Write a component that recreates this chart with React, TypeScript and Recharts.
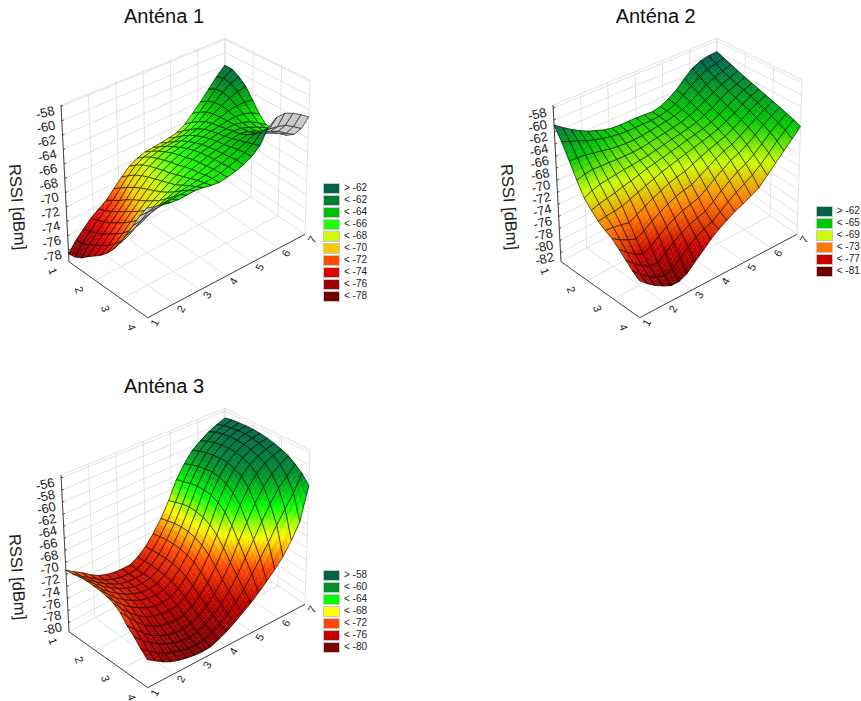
import React from 'react';
import { ReferenceLine, Scatter, ScatterChart, XAxis, YAxis } from 'recharts';

const xValues = [1, 1.3, 1.6, 1.9, 2.2, 2.5, 2.8, 3.1, 3.4, 3.7, 4, 4.3, 4.6, 4.9, 5.2, 5.5, 5.8, 6.1, 6.4, 6.7, 7];
const yValues = [1, 1.25, 1.5, 1.75, 2, 2.25, 2.5, 2.75, 3, 3.25, 3.5, 3.75, 4];
const xTicks = [1, 2, 3, 4, 5, 6, 7];
const yTicks = [1, 2, 3, 4];

// one row per y value, one column per x value
const antena1Z = [
	[-78.5, -77.2, -76.2, -75.2, -74.5, -73.8, -72.7, -71.6, -70.6, -70.0, -69.6, -69.5, -69.4, -69.2, -69.0, -68.3, -67.2, -66.0, -64.6, -63.2, -62.0],
	[-78.3, -77.0, -75.9, -74.9, -74.1, -73.2, -72.0, -70.8, -69.8, -69.2, -68.9, -68.8, -68.7, -68.5, -68.1, -67.4, -66.4, -65.3, -64.0, -62.9, -62.0],
	[-77.8, -76.6, -75.5, -74.5, -73.6, -72.6, -71.3, -70.1, -69.2, -68.6, -68.3, -68.1, -68.0, -67.7, -67.3, -66.7, -65.8, -64.9, -63.9, -63.1, -62.6],
	[-77.0, -76.0, -75.0, -74.0, -73.0, -71.9, -70.7, -69.6, -68.8, -68.2, -67.8, -67.6, -67.3, -67.0, -66.6, -66.1, -65.5, -64.8, -64.2, -63.8, -63.5],
	[-76.3, -75.4, -74.4, -73.4, -72.4, -71.3, -70.2, -69.2, -68.5, -67.9, -67.4, -67.1, -66.8, -66.5, -66.1, -65.8, -65.4, -65.0, -64.8, -64.8, -65.0],
	[-75.6, -74.8, -73.8, -72.8, -71.8, -70.8, -69.8, -68.9, -68.2, -67.6, -67.1, -66.7, -66.4, -66.1, -65.8, -65.6, -65.4, -65.3, -65.4, -65.8, -66.5],
	[-74.7, -74.0, -73.1, -72.1, -71.2, -70.3, -69.4, -68.6, -68.0, -67.4, -66.9, -66.4, -66.1, -65.8, -65.6, -65.4, -65.3, -65.6, -66.0, -66.7, -67.5],
	[-73.6, -73.0, -72.2, -71.3, -70.5, -69.7, -69.0, -68.3, -67.7, -67.1, -66.6, -66.2, -65.9, -65.6, -65.4, -65.2, -65.3, -65.7, -66.2, -66.8, -67.5],
	[-72.2, -71.8, -71.1, -70.3, -69.7, -69.1, -68.5, -68.0, -67.4, -66.9, -66.5, -66.1, -65.8, -65.5, -65.2, -65.0, -65.2, -65.7, -66.2, -66.8, -67.4],
	[-70.6, -70.2, -69.8, -69.2, -68.7, -68.3, -67.9, -67.5, -67.1, -66.8, -66.4, -66.0, -65.7, -65.3, -64.9, -64.6, -64.9, -65.4, -65.9, -66.5, -67.3],
	[-68.8, -68.6, -68.3, -68.0, -67.7, -67.5, -67.2, -67.0, -66.8, -66.6, -66.3, -66.0, -65.6, -65.1, -64.6, -64.0, -64.2, -64.6, -65.1, -65.9, -66.6],
	[-67.0, -67.0, -67.0, -66.9, -66.8, -66.7, -66.6, -66.6, -66.6, -66.5, -66.3, -65.9, -65.5, -65.0, -64.3, -63.2, -63.2, -63.4, -63.7, -64.4, -65.2],
	[-65.5, -65.8, -66.0, -66.2, -66.3, -66.2, -66.1, -66.2, -66.4, -66.5, -66.3, -66.0, -65.6, -65.0, -64.0, -62.0, -61.1, -61.0, -61.5, -62.2, -63.0],
];

const antena2Z = [
	[-60.8, -61.8, -62.7, -63.5, -64.2, -64.7, -65.2, -65.5, -65.6, -65.6, -65.6, -65.7, -65.8, -65.5, -64.8, -63.8, -62.4, -61.1, -60.4, -60.1, -60.0],
	[-63.0, -63.5, -64.0, -64.6, -65.0, -65.4, -65.7, -65.9, -66.0, -66.0, -66.0, -66.0, -65.9, -65.6, -65.0, -64.1, -63.0, -62.0, -61.3, -60.9, -60.5],
	[-65.5, -65.6, -65.7, -66.0, -66.2, -66.5, -66.7, -66.8, -66.8, -66.7, -66.5, -66.3, -66.1, -65.8, -65.3, -64.6, -63.7, -62.8, -62.1, -61.6, -61.0],
	[-68.0, -67.6, -67.4, -67.5, -67.5, -67.6, -67.6, -67.6, -67.5, -67.3, -67.0, -66.8, -66.5, -66.2, -65.7, -65.1, -64.3, -63.5, -62.7, -62.1, -61.5],
	[-70.2, -69.6, -69.2, -69.0, -68.8, -68.6, -68.5, -68.3, -68.1, -67.8, -67.5, -67.2, -66.9, -66.6, -66.2, -65.6, -64.9, -64.0, -63.2, -62.6, -62.0],
	[-71.5, -71.1, -70.8, -70.5, -70.1, -69.8, -69.4, -69.0, -68.7, -68.4, -68.0, -67.7, -67.3, -67.0, -66.6, -66.1, -65.4, -64.6, -63.7, -63.0, -62.4],
	[-72.6, -72.4, -72.2, -72.0, -71.5, -71.0, -70.5, -70.0, -69.5, -69.1, -68.7, -68.3, -67.9, -67.5, -67.1, -66.6, -65.9, -65.1, -64.2, -63.4, -62.8],
	[-73.4, -73.5, -73.7, -74.0, -73.3, -72.6, -71.9, -71.3, -70.7, -70.3, -70.0, -69.4, -68.8, -68.2, -67.7, -67.2, -66.5, -65.6, -64.7, -63.9, -63.2],
	[-74.0, -74.8, -75.4, -75.9, -75.2, -74.3, -73.5, -72.8, -72.2, -71.8, -71.5, -70.7, -69.9, -69.1, -68.4, -67.9, -67.1, -66.2, -65.2, -64.4, -63.6],
	[-75.0, -76.1, -77.0, -77.6, -77.0, -76.0, -75.1, -74.4, -73.8, -73.4, -73.0, -72.1, -71.1, -70.2, -69.3, -68.7, -67.9, -66.9, -65.8, -64.9, -64.0],
	[-76.0, -77.2, -78.1, -78.9, -78.9, -78.0, -76.9, -76.1, -75.4, -74.9, -74.5, -73.5, -72.4, -71.4, -70.5, -69.8, -68.9, -67.7, -66.4, -65.4, -64.4],
	[-77.0, -78.2, -79.1, -79.9, -80.2, -79.8, -78.7, -77.6, -76.7, -76.0, -75.5, -74.5, -73.5, -72.6, -71.8, -71.0, -69.9, -68.6, -67.2, -66.0, -64.8],
	[-77.8, -78.9, -79.8, -80.5, -81.1, -81.1, -80.5, -79.3, -78.2, -77.0, -76.0, -75.2, -74.4, -73.8, -73.1, -72.4, -71.0, -69.6, -68.2, -66.8, -65.3],
];

const antena3Z = [
	[-71.3, -72.2, -73.0, -74.0, -74.8, -75.3, -75.6, -75.7, -75.7, -75.0, -73.9, -72.3, -70.3, -67.8, -64.7, -62.5, -60.7, -59.6, -58.6, -57.9, -57.3],
	[-71.2, -72.2, -73.1, -74.0, -74.8, -75.4, -75.7, -75.8, -75.7, -75.0, -73.8, -72.1, -70.0, -67.4, -64.4, -62.0, -60.2, -59.0, -58.0, -57.4, -57.0],
	[-71.0, -72.1, -73.1, -74.0, -74.8, -75.4, -75.7, -75.8, -75.7, -74.9, -73.7, -71.9, -69.7, -67.0, -64.0, -61.6, -59.8, -58.6, -57.7, -57.2, -56.9],
	[-70.9, -72.1, -73.1, -74.0, -74.8, -75.4, -75.8, -75.9, -75.7, -75.0, -73.7, -71.9, -69.6, -66.8, -63.8, -61.4, -59.6, -58.4, -57.5, -57.0, -56.8],
	[-71.0, -72.2, -73.3, -74.2, -75.0, -75.6, -76.0, -76.1, -75.9, -75.1, -73.8, -72.0, -69.7, -66.9, -63.8, -61.3, -59.5, -58.3, -57.5, -57.0, -56.8],
	[-71.1, -72.4, -73.6, -74.5, -75.3, -75.9, -76.3, -76.4, -76.2, -75.4, -74.1, -72.3, -70.0, -67.2, -64.0, -61.5, -59.6, -58.4, -57.6, -57.1, -56.9],
	[-71.4, -72.8, -74.0, -75.0, -75.8, -76.4, -76.8, -76.9, -76.7, -75.9, -74.6, -72.8, -70.6, -67.8, -64.6, -62.0, -60.0, -58.7, -57.9, -57.4, -57.1],
	[-71.8, -73.3, -74.6, -75.7, -76.5, -77.1, -77.4, -77.5, -77.3, -76.6, -75.4, -73.7, -71.5, -68.8, -65.6, -62.9, -60.7, -59.3, -58.4, -57.8, -57.4],
	[-72.6, -74.0, -75.4, -76.5, -77.3, -77.9, -78.2, -78.3, -78.1, -77.4, -76.3, -74.8, -72.8, -70.3, -67.2, -64.4, -62.0, -60.2, -59.0, -58.3, -57.8],
	[-74.0, -75.2, -76.4, -77.4, -78.1, -78.6, -78.9, -79.0, -78.8, -78.2, -77.2, -75.9, -74.2, -72.0, -69.2, -66.6, -64.0, -61.8, -60.2, -59.2, -58.3],
	[-75.0, -76.2, -77.2, -78.0, -78.7, -79.2, -79.5, -79.6, -79.4, -78.8, -78.0, -76.9, -75.4, -73.5, -71.2, -68.8, -66.4, -64.1, -62.0, -60.6, -59.1],
	[-76.2, -77.2, -78.1, -78.8, -79.3, -79.7, -80.0, -80.1, -79.9, -79.4, -78.7, -77.7, -76.5, -75.0, -73.2, -71.2, -69.2, -67.0, -64.9, -62.8, -60.1],
	[-77.2, -78.0, -78.8, -79.4, -79.8, -80.1, -80.3, -80.4, -80.3, -79.8, -79.2, -78.4, -77.5, -76.6, -75.5, -74.3, -73.0, -71.5, -69.5, -67.0, -61.5],
];

const antena1Ticks = [-58, -60, -62, -64, -66, -68, -70, -72, -74, -76, -78];
const antena2Ticks = [-58, -60, -62, -64, -66, -68, -70, -72, -74, -76, -78, -80, -82];
const antena3Ticks = [-56, -58, -60, -62, -64, -66, -68, -70, -72, -74, -76, -78, -80];

const antena1Levels = [-62, -62, -64, -66, -68, -70, -72, -74, -76, -78];
const antena1Colors = ['#00644b', '#007d2d', '#00be00', '#1eff00', '#ccff00', '#ffc800', '#ff4b00', '#e10000', '#a00000', '#6e0000'];
const antena2Levels = [-62, -65, -69, -73, -77, -81];
const antena2Colors = ['#00644b', '#00c800', '#ccff00', '#ff7800', '#c80000', '#6e0000'];
const antena3Levels = [-58, -60, -64, -68, -72, -76, -80];
const antena3Colors = ['#00644b', '#00912d', '#00ff00', '#ffff00', '#ff4800', '#c00000', '#780000'];

// pixel corners of the plot box
const BOX = {
	L: [69, 261.7], F: [147.7, 317.7], R: [305, 234.3], B: [224, 178.3],
	LT: [61, 105], FT: [146, 148.3], RT: [310, 80], BT: [225, 38.3],
};
const W = 330;
const H = 331;

const mix = (a: number[], b: number[], t: number) => [a[0] + (b[0] - a[0]) * t, a[1] + (b[1] - a[1]) * t];

const project = (u: number, v: number, w: number) => {
	const floor = mix(mix(BOX.L, BOX.B, u), mix(BOX.F, BOX.R, u), v);
	const top = mix(mix(BOX.LT, BOX.BT, u), mix(BOX.FT, BOX.RT, u), v);
	return mix(floor, top, w);
};

const bandCenters = (levels: number[], shift: number) => {
	const step = Math.abs(levels[levels.length - 1] - levels[levels.length - 2]);
	return levels.map((l, i) => (i === 0 ? l + step / 2 - 0.5 : l - step / 2 + shift));
};

const colorFor = (z: number, centers: number[], colors: string[]) => {
	const rgb = (c: string) => [1, 3, 5].map((i) => parseInt(c.slice(i, i + 2), 16));
	if (z >= centers[0]) return colors[0];
	for (let i = 1; i < centers.length; i += 1) {
		if (z >= centers[i]) {
			const t = (z - centers[i]) / (centers[i - 1] - centers[i]);
			const a = rgb(colors[i]);
			const b = rgb(colors[i - 1]);
			return `rgb(${a.map((v, k) => Math.round(v + (b[k] - v) * t)).join(',')})`;
		}
	}
	return colors[colors.length - 1];
};

const buildCells = (zRows: number[][], zMin: number, zMax: number, levels: number[], colors: string[], shift: number) => {
	const centers = bandCenters(levels, shift);
	const uOf = (i: number) => (xValues[i] - 1) / 6;
	const vOf = (j: number) => (yValues[j] - 1) / 3;
	const wOf = (z: number) => (z - zMin) / (zMax - zMin);
	const cells: any[] = [];
	const SUB = 3;
	// back to front: far corner is high x, low y
	for (let i = xValues.length - 2; i >= 0; i -= 1) {
		for (let j = 0; j < yValues.length - 1; j += 1) {
			const z00 = zRows[j][i];
			const z10 = zRows[j][i + 1];
			const z01 = zRows[j + 1][i];
			const z11 = zRows[j + 1][i + 1];
			const at = (s: number, t: number) => {
				const z = z00 * (1 - s) * (1 - t) + z10 * s * (1 - t) + z01 * (1 - s) * t + z11 * s * t;
				const u = uOf(i) + (uOf(i + 1) - uOf(i)) * s;
				const v = vOf(j) + (vOf(j + 1) - vOf(j)) * t;
				return { z, p: project(u, v, wOf(z)) };
			};
			const c = at(0.5, 0.5).p;
			const rel = (p: number[]) => `${(p[0] - c[0]).toFixed(2)},${(p[1] - c[1]).toFixed(2)}`;
			const subs: { points: string; fill: string }[] = [];
			for (let a = 0; a < SUB; a += 1) {
				for (let b = 0; b < SUB; b += 1) {
					const q = [at(a / SUB, b / SUB), at((a + 1) / SUB, b / SUB), at((a + 1) / SUB, (b + 1) / SUB), at(a / SUB, (b + 1) / SUB)];
					const d1 = [q[1].p[0] - q[0].p[0], q[1].p[1] - q[0].p[1]];
					const d2 = [q[3].p[0] - q[0].p[0], q[3].p[1] - q[0].p[1]];
					const under = d1[0] * d2[1] - d1[1] * d2[0] < 0;
					const zm = (q[0].z + q[1].z + q[2].z + q[3].z) / 4;
					subs.push({ points: q.map((o) => rel(o.p)).join(' '), fill: under ? '#c9c9c9' : colorFor(zm, centers, colors) });
				}
			}
			const outline = [at(0, 0), at(1, 0), at(1, 1), at(0, 1)].map((o) => rel(o.p)).join(' ');
			cells.push({ px: c[0], py: c[1], subs, outline });
		}
	}
	return cells;
};

const CellShape = (props: any) => {
	const { cx, cy, payload } = props;
	return (
		<g transform={`translate(${cx},${cy})`}>
			{payload.subs.map((s: any, i: number) => (
				<polygon key={i} points={s.points} fill={s.fill} stroke={s.fill} strokeWidth={0.35} />
			))}
			<polygon points={payload.outline} fill='none' stroke='#000' strokeWidth={0.65} strokeOpacity={0.9} />
		</g>
	);
};

const labelShape = (rotate: number, size: number) => (props: any) => {
	const { cx, cy, payload } = props;
	return (
		<text x={cx} y={cy} transform={`rotate(${rotate} ${cx} ${cy})`} textAnchor='middle' dominantBaseline='central' fontSize={size} fill='#222' fontFamily='Liberation Sans'>
			{payload.text}
		</text>
	);
};

const GRID = '#dcdcdc';
const AXIS = '#333';

const Panel: React.FC<{
	title: string;
	left: number;
	top: number;
	zRows: number[][];
	zMin: number;
	zMax: number;
	zTicks: number[];
	levels: number[];
	colors: string[];
	colorShift: number;
	legendLeft: number;
	legendTop: number;
}> = ({ title, left, top, zRows, zMin, zMax, zTicks, levels, colors, colorShift, legendLeft, legendTop }) => {
	const wOf = (z: number) => (z - zMin) / (zMax - zMin);
	const uOf = (x: number) => (x - 1) / 6;
	const vOf = (y: number) => (y - 1) / 3;
	const cells = buildCells(zRows, zMin, zMax, levels, colors, colorShift);
	const seg = (a: number[], b: number[]) => [{ x: a[0], y: a[1] }, { x: b[0], y: b[1] }] as any;

	const lines: { a: number[]; b: number[]; stroke: string; width: number }[] = [];
	const add = (a: number[], b: number[], stroke = GRID, width = 0.8) => lines.push({ a, b, stroke, width });
	xTicks.forEach((x) => {
		add(project(uOf(x), 0, 0), project(uOf(x), 0, 1));
		add(project(uOf(x), 0, 0), project(uOf(x), 1, 0));
	});
	yTicks.forEach((y) => {
		add(project(1, vOf(y), 0), project(1, vOf(y), 1));
		add(project(0, vOf(y), 0), project(1, vOf(y), 0));
	});
	zTicks.forEach((z) => {
		add(project(0, 0, wOf(z)), project(1, 0, wOf(z)));
		add(project(1, 0, wOf(z)), project(1, 1, wOf(z)));
	});
	add(project(0, 0, 1), project(1, 0, 1));
	add(project(1, 0, 1), project(1, 1, 1));
	add(project(0, 0, 0), project(0, 0, 1), AXIS, 0.9);
	add(project(0, 0, 0), project(0, 1, 0), AXIS, 0.9);
	add(project(0, 1, 0), project(1, 1, 0), AXIS, 0.9);
	zTicks.forEach((z) => add(project(0, 0, wOf(z)), project(0.012, 0, wOf(z)), AXIS, 0.9));

	const zLabels = zTicks.map((z) => {
		const p = project(0, 0, wOf(z));
		return { px: p[0] - 16, py: p[1] + 6, text: String(z) };
	});
	const xLabels = xTicks.map((x) => {
		const p = project(uOf(x), 1, 0);
		return { px: p[0] + 7, py: p[1] + 5, text: String(x) };
	});
	const yLabels = yTicks.map((y) => {
		const p = project(0, vOf(y), 0);
		return { px: p[0] - 16, py: p[1] + 9.5, text: String(y) };
	});

	return (
		<div style={{ position: 'absolute', left, top, width: W, height: H }}>
			<div style={{ position: 'absolute', left: 64, top: 3, width: 200, textAlign: 'center', fontFamily: 'Liberation Sans', fontSize: 20, color: '#111', lineHeight: '26px' }}>{title}</div>
			<ScatterChart width={W} height={H} margin={{ top: 0, right: 0, bottom: 0, left: 0 }} style={{ position: 'absolute', left: 0, top: 0 }}>
				<XAxis type='number' dataKey='px' domain={[0, W]} hide />
				<YAxis type='number' dataKey='py' domain={[0, H]} reversed hide />
				{lines.map((l, i) => (
					<ReferenceLine key={i} segment={seg(l.a, l.b)} stroke={l.stroke} strokeWidth={l.width} ifOverflow='visible' />
				))}
				<Scatter data={cells} shape={CellShape} isAnimationActive={false} />
				<Scatter data={zLabels} shape={labelShape(-13, 13)} isAnimationActive={false} />
				<Scatter data={xLabels} shape={labelShape(-60, 11)} isAnimationActive={false} />
				<Scatter data={yLabels} shape={labelShape(70, 11)} isAnimationActive={false} />
			</ScatterChart>
			<div style={{ position: 'absolute', left: 18, top: 207, width: 0, height: 0 }}>
				<div style={{ position: 'absolute', left: -60, top: -10, width: 120, textAlign: 'center', transform: 'rotate(86deg)', fontFamily: 'Liberation Sans', fontSize: 16.5, lineHeight: '20px', color: '#222', whiteSpace: 'nowrap' }}>RSSI [dBm]</div>
			</div>
			<div style={{ position: 'absolute', left: legendLeft, top: legendTop, width: 50 }}>
				{levels.map((l, i) => (
					<div key={i} style={{ position: 'relative', height: 12 }}>
						<div style={{ position: 'absolute', left: 0, top: 0, width: 15, height: 9, background: colors[i], border: '1px solid #c8c8c8', boxSizing: 'content-box' }} />
						<div style={{ position: 'absolute', left: 21, top: -1, fontFamily: 'Liberation Sans', fontSize: 10, lineHeight: '12px', color: '#222', whiteSpace: 'nowrap' }}>{`${i === 0 ? '>' : '<'} ${l}`}</div>
					</div>
				))}
			</div>
		</div>
	);
};

export default function App() {
	return (
		<div style={{ position: 'absolute', left: 0, top: 0, width: 861, height: 701, background: '#fff', overflow: 'hidden' }}>
			<Panel title='Anténa 1' left={0} top={0} zRows={antena1Z} zMin={-79.6} zMax={-57.8} zTicks={antena1Ticks} levels={antena1Levels} colors={antena1Colors} colorShift={0} legendLeft={323} legendTop={183} />
			<Panel title='Anténa 2' left={491.7} top={0} zRows={antena2Z} zMin={-83.5} zMax={-57.5} zTicks={antena2Ticks} levels={antena2Levels} colors={antena2Colors} colorShift={1.5} legendLeft={324} legendTop={206} />
			<Panel title='Anténa 3' left={0} top={370} zRows={antena3Z} zMin={-81.5} zMax={-55.5} zTicks={antena3Ticks} levels={antena3Levels} colors={antena3Colors} colorShift={1.5} legendLeft={323} legendTop={200} />
		</div>
	);
}
